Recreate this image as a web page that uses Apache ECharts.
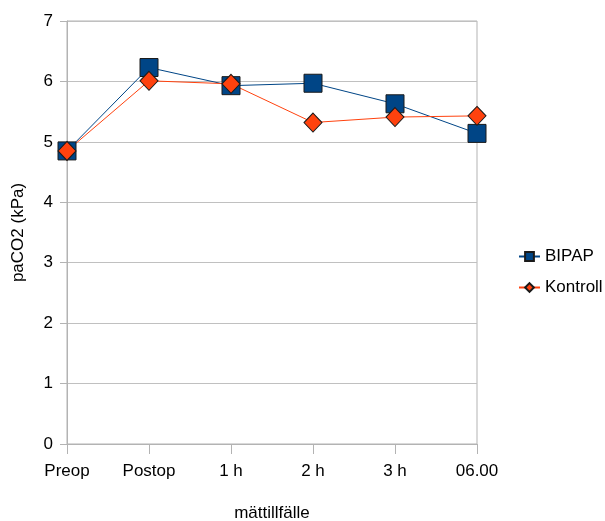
<!DOCTYPE html>
<html><head><meta charset="utf-8">
<script src="https://cdn.jsdelivr.net/npm/echarts@6/dist/echarts.min.js"></script>
<style>html,body{margin:0;padding:0;background:#fff}#c{width:605px;height:521px}</style>
</head><body><div id="c"></div>
<script>
const categories = ['Preop','Postop','1 h','2 h','3 h','06.00'];
const bipap = [4.85, 6.23, 5.93, 5.97, 5.63, 5.14];
const kontroll = [4.85, 6.01, 5.96, 5.32, 5.41, 5.43];
const yTicks = [0,1,2,3,4,5,6,7];

const font = '"Liberation Sans", Arial, sans-serif';
const chart = echarts.init(document.getElementById('c'));
chart.setOption({
  animation: false,
  backgroundColor: '#fff',
  grid: {left: 67, right: 128, top: 21, bottom: 77, outerBoundsMode: 'none', containLabel: false,
         show: true, borderColor: '#b3b3b3', borderWidth: 1},
  legend: {
    orient: 'vertical', left: 518, top: 248, padding: 0, itemGap: 14, itemWidth: 21, itemHeight: 11,
    textStyle: {fontFamily: font, fontSize: 17, color: '#000'},
    data: ['BIPAP','Kontroll']
  },
  xAxis: {
    type: 'category', data: categories, boundaryGap: false,
    name: 'mättillfälle', nameLocation: 'middle', nameGap: 61,
    nameTextStyle: {fontFamily: font, fontSize: 17, color: '#000'},
    axisLine: {lineStyle: {color: '#b3b3b3'}},
    axisTick: {show: true, length: 10, lineStyle: {color: '#b3b3b3'}, alignWithLabel: true},
    axisLabel: {fontFamily: font, fontSize: 17, color: '#000', margin: 19},
    splitLine: {show: false}
  },
  yAxis: {
    type: 'value', min: yTicks[0], max: yTicks[yTicks.length-1], interval: 1,
    name: 'paCO2 (kPa)', nameLocation: 'middle', nameGap: 40,
    nameTextStyle: {fontFamily: font, fontSize: 17, color: '#000'},
    axisLine: {show: true, lineStyle: {color: '#b3b3b3'}},
    axisTick: {show: true, length: 7, lineStyle: {color: '#b3b3b3'}},
    axisLabel: {fontFamily: font, fontSize: 17, color: '#000', margin: 14},
    splitLine: {lineStyle: {color: '#c0c0c0'}}
  },
  series: [
    {name: 'BIPAP', type: 'line', data: bipap, symbol: 'rect', symbolSize: 18,
     lineStyle: {color: '#004586', width: 1},
     itemStyle: {color: '#004586', borderColor: '#1a1a1a', borderWidth: 1}},
    {name: 'Kontroll', type: 'line', data: kontroll, symbol: 'diamond', symbolSize: [18, 19],
     lineStyle: {color: '#ff420e', width: 1},
     itemStyle: {color: '#ff420e', borderColor: '#1a1a1a', borderWidth: 1}}
  ]
});
</script></body></html>
